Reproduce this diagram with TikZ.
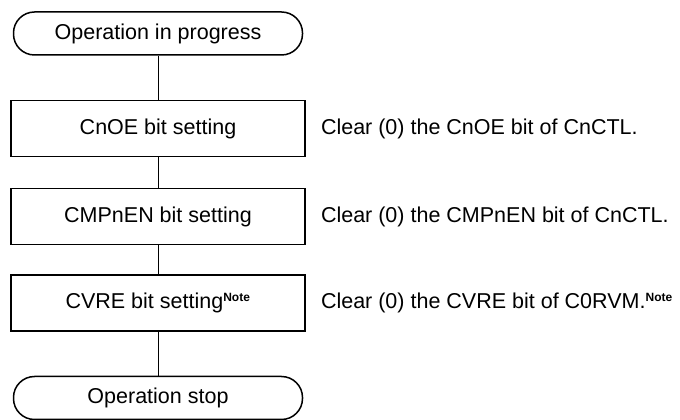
\documentclass[tikz,border=0pt]{standalone}
\usepackage{fontspec}
\setmainfont{Liberation Sans}
\usetikzlibrary{positioning}
\newcommand{\notemark}{\textsuperscript{\fontsize{12}{12}\selectfont\bfseries Note}}

\begin{document}
\begin{tikzpicture}[x=1pt, y=1pt,
	font=\fontsize{21.5}{26}\selectfont,
	terminal/.style={draw, line width=1.5pt, rounded corners=21pt, minimum width=289pt, minimum height=43pt, inner sep=0pt},
	stepbox/.style={draw, line width=1.6pt, minimum width=294pt, minimum height=56pt, inner sep=0pt},
	remark/.style={inner sep=0pt, anchor=west}]
	\useasboundingbox (0,0) rectangle (680,420);

	\node[terminal] (start) at (158, 386.5) {Operation in progress};
	\node[stepbox] (oe) at (158, 291.5) {CnOE bit setting};
	\node[stepbox] (en) at (158, 203.5) {CMPnEN bit setting};
	\node[stepbox] (vre) at (158, 117) {CVRE bit setting\notemark};
	\node[terminal] (stop) at (158, 22) {Operation stop};

	\node[remark, right=15pt of oe] (oetxt) {Clear (0) the CnOE bit of CnCTL.};
	\node[remark, right=15pt of en] (entxt) {Clear (0) the CMPnEN bit of CnCTL.};
	\node[remark, right=15pt of vre] (vretxt) {Clear (0) the CVRE bit of C0RVM.\notemark};

	\foreach \a/\b in {start/oe, oe/en, en/vre, vre/stop}
		\draw[line width=1pt] (\a) -- (\b);
\end{tikzpicture}
\end{document}
